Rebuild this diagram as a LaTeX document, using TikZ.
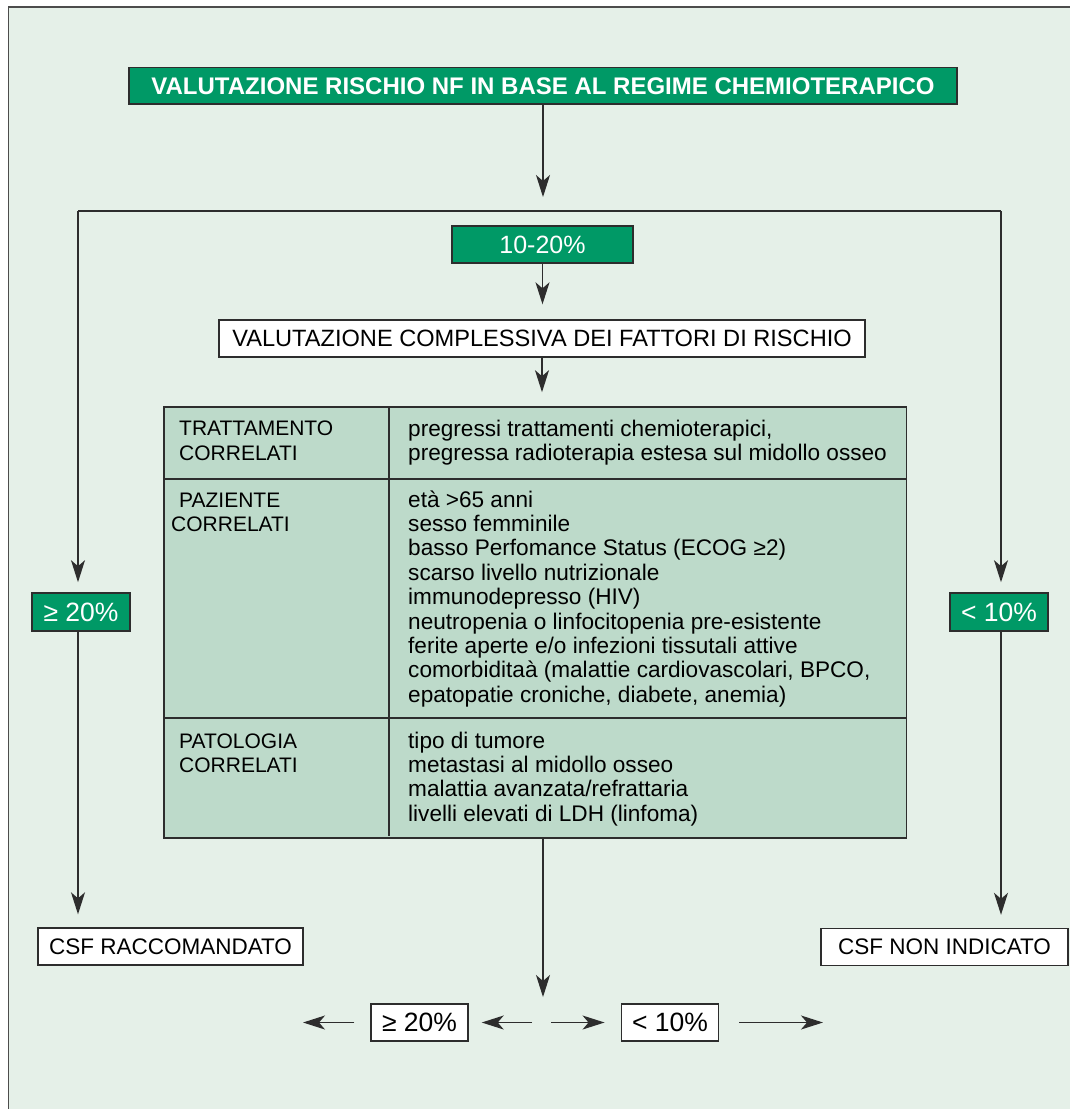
\documentclass[tikz,border=0pt]{standalone}
\usepackage{fontspec}
\setmainfont{Liberation Sans}
\usetikzlibrary{arrows.meta}
\definecolor{paper}{RGB}{229,240,232}
\definecolor{flowgreen}{RGB}{0,153,102}
\definecolor{tablegreen}{RGB}{189,218,202}
\definecolor{ink}{RGB}{45,45,45}

\begin{document}
\begin{tikzpicture}[x=1pt,y=-1pt,
  conn/.style={draw=ink, line width=1.3pt, -{Stealth[length=22pt,width=14pt,inset=6pt]}},
  plain/.style={draw=ink, line width=1.3pt},
  greenbox/.style={draw=ink, line width=1.6pt, fill=flowgreen, text=white, inner sep=0pt},
  whitebox/.style={draw=ink, line width=1.4pt, fill=white, text=black, inner sep=0pt},
  rule/.style={draw=ink, line width=1.6pt},
  cell/.style={anchor=base west, inner sep=0pt, font=\fontsize{21}{24}\selectfont},
  item/.style={anchor=base west, inner sep=0pt, font=\fontsize{22.6}{24}\selectfont},
]
\useasboundingbox (0,0) rectangle (1070,1109);

% page background and frame
\fill[white] (0,0) rectangle (1070,1109);
\fill[paper] (8.5,7) rectangle (1070,1109);
\draw[ink!85, line width=1.5pt] (8.5,1109) -- (8.5,7) -- (1070,7);

% title
\node[greenbox, minimum width=828pt, minimum height=36.5pt,
      font=\fontsize{24}{28}\selectfont\bfseries] (title) at (543,85.75)
  {VALUTAZIONE RISCHIO NF IN BASE AL REGIME CHEMIOTERAPICO};
\coordinate (t1) at (543,197);
\draw[conn] (title.south) -- (t1);

% branching line
\coordinate (sl) at (78,211);
\coordinate (sr) at (1001,211);
\draw[plain] (sl) -- (sr);

% side branches
\node[greenbox, minimum width=98pt, minimum height=38pt,
      font=\fontsize{26.5}{28}\selectfont] (lo) at (81,612) {≥ 20\%};
\node[greenbox, minimum width=98pt, minimum height=38pt,
      font=\fontsize{26.5}{28}\selectfont] (hi) at (999,612) {< 10\%};
\node[whitebox, minimum width=265pt, minimum height=37pt,
      font=\fontsize{22.5}{26}\selectfont] (csfr) at (170.5,946.5) {CSF RACCOMANDATO};
\node[whitebox, minimum width=247pt, minimum height=37pt,
      font=\fontsize{22.5}{26}\selectfont] (csfn) at (944.5,947) {CSF NON INDICATO};

\draw[conn, shorten >=10pt] (sl) -- (sl |- lo.north);
\draw[conn, shorten >=10pt] (sr) -- (sr |- hi.north);
\draw[conn, shorten >=13pt] (sl |- lo.south) -- (sl |- csfr.north);
\draw[conn, shorten >=13pt] (sr |- hi.south) -- (sr |- csfn.north);

% central branch
\node[greenbox, minimum width=181pt, minimum height=37pt,
      font=\fontsize{25}{28}\selectfont] (mid) at (542.5,244.5) {10-20\%};
\node[whitebox, minimum width=646pt, minimum height=37pt,
      font=\fontsize{23.6}{28}\selectfont] (val) at (542,338.5)
  {VALUTAZIONE COMPLESSIVA DEI FATTORI DI RISCHIO};
\draw[conn, shorten >=15pt] (mid) -- (mid |- val.north);

% risk factor table
\node[draw=ink, line width=1.6pt, fill=tablegreen, inner sep=0pt,
      minimum width=742.5pt, minimum height=431pt] (tab) at (535.25,622.5) {};
\draw[conn, shorten >=14pt] (val.south) -- (val.south |- tab.north);
\draw[rule] (164,479) -- (906.5,479);
\draw[rule] (164,718) -- (906.5,718);
\draw[rule] (389,407) -- (389,836);

\node[cell] (c1a) at (179,435) {TRATTAMENTO};
\node[cell] (c1b) at (179,460) {CORRELATI};
\node[cell] (c2a) at (179,507) {PAZIENTE};
\node[cell] (c2b) at (171,531.5) {CORRELATI};
\node[cell] (c3a) at (179,748) {PATOLOGIA};
\node[cell] (c3b) at (179,772.5) {CORRELATI};

\node[item] (d1a) at (408,436) {pregressi trattamenti chemioterapici,};
\node[item] (d1b) at (408,460) {pregressa radioterapia estesa sul midollo osseo};

\foreach \t [count=\k from 0] in {%
  {età >65 anni},
  {sesso femminile},
  {basso Perfomance Status (ECOG ≥2)},
  {scarso livello nutrizionale},
  {immunodepresso (HIV)},
  {neutropenia o linfocitopenia pre-esistente},
  {ferite aperte e/o infezioni tissutali attive},
  {comorbiditaà (malattie cardiovascolari, BPCO,},
  {epatopatie croniche, diabete, anemia)}}
  \node[item] (d2-\k) at (408,507+24.4*\k) {\t};

\foreach \t [count=\k from 0] in {%
  {tipo di tumore},
  {metastasi al midollo osseo},
  {malattia avanzata/refrattaria},
  {livelli elevati di LDH (linfoma)}}
  \node[item] (d3-\k) at (408,748+24.4*\k) {\t};

% final split
\coordinate (b0) at (543,838);
\coordinate (b1) at (543,997);
\draw[conn] (b0) -- (b1);

\node[whitebox, minimum width=97pt, minimum height=37pt,
      font=\fontsize{26.5}{28}\selectfont] (ge) at (419.5,1022.5) {≥ 20\%};
\node[whitebox, minimum width=97.5pt, minimum height=37pt,
      font=\fontsize{26.5}{28}\selectfont] (lt) at (670,1022.5) {< 10\%};

\coordinate (ca) at (532,1022.5);
\coordinate (cb) at (551,1022.5);
\coordinate (lb) at (303,1022.5);
\coordinate (rb) at (823,1022.5);
\draw[conn, shorten >=13pt] (ca) -- (ge);
\draw[conn, shorten >=16pt] (cb) -- (lt);
\draw[conn, shorten <=16pt] (ge) -- (lb);
\draw[conn, shorten <=20pt] (lt) -- (rb);
\end{tikzpicture}
\end{document}
